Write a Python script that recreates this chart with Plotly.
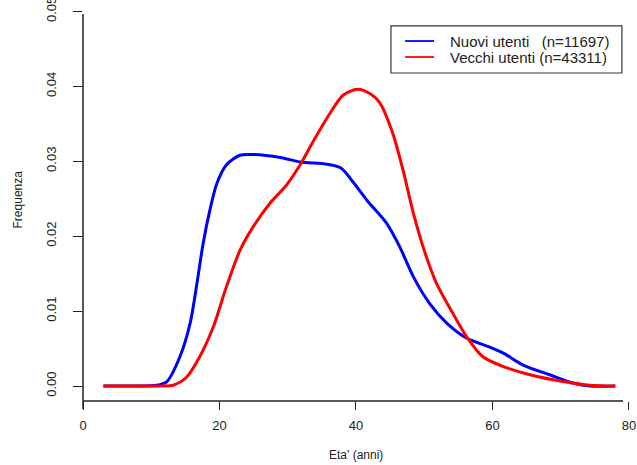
import plotly.graph_objects as go

# Data (age in years, density)
eta_nuovi = [3, 8, 10.8, 12.3, 14.2, 15.7, 16.7, 17.6, 18.6, 19.6, 21.0, 23.0, 24.9, 28.9, 31.8,
             35.7, 37.8, 39.6, 41.6, 44.5, 46.4, 48.4, 50.8, 53.3, 56.2, 59.6, 61.6, 64.5,
             68.4, 71.8, 74.3, 78]
freq_nuovi = [0.0, 0.0, 0.0001, 0.0006, 0.0039, 0.0084, 0.0137, 0.019, 0.0235, 0.027, 0.0295,
              0.0308, 0.0309, 0.0305, 0.0299, 0.0296, 0.0291, 0.0272, 0.0248, 0.0217, 0.0186,
              0.0146, 0.0110, 0.0084, 0.0064, 0.0052, 0.0044, 0.0028, 0.0015, 0.0004, 0.0, 0.0]

eta_vecchi = [3, 8, 11.7, 13.2, 15.2, 17.1, 19.1, 21.0, 23.0, 24.9, 27.4, 29.8, 31.8, 33.7,
              36.2, 38.1, 40.2, 42.1, 43.5, 45.4, 46.9, 48.4, 50.0, 51.8, 54.2, 56.2, 58.6,
              61.6, 65.5, 70.3, 74.3, 78]
freq_vecchi = [0.0, 0.0, 0.0, 0.0001, 0.0012, 0.0039, 0.0079, 0.0132, 0.0181, 0.0212, 0.0244,
               0.0268, 0.0295, 0.0326, 0.0364, 0.0388, 0.0396, 0.039, 0.0378, 0.0337, 0.0288,
               0.0231, 0.0181, 0.0137, 0.0097, 0.0066, 0.0039, 0.0026, 0.0015, 0.0006, 0.0001, 0.0]

nome_nuovi = "Nuovi utenti\u00a0\u00a0\u00a0(n=11697)"
nome_vecchi = "Vecchi utenti (n=43311)"

x_ticks = [0, 20, 40, 60, 80]
y_ticks = [0.0, 0.01, 0.02, 0.03, 0.04, 0.05]
y_ticktext = ["0.00", "0.01", "0.02", "0.03", "0.04", "0.05"]

FONT = "Liberation Sans, Arial, sans-serif"
TXT = "#222222"
BLUE = "#0000FF"
RED = "#FF0000"

fig = go.Figure()
fig.add_trace(go.Scatter(x=eta_nuovi, y=freq_nuovi, mode="lines", name=nome_nuovi,
                         showlegend=False,
                         line=dict(color=BLUE, width=3, shape="spline", smoothing=0.8)))
fig.add_trace(go.Scatter(x=eta_vecchi, y=freq_vecchi, mode="lines", name=nome_vecchi,
                         showlegend=False,
                         line=dict(color=RED, width=3, shape="spline", smoothing=0.8)))

# manual legend (box, line samples, labels) in paper coordinates
lg_x0, lg_x1, lg_y0, lg_y1 = 0.564, 0.987, 0.841, 0.962
ln_x0, ln_x1, txt_x = 0.590, 0.643, 0.668
row_y = [0.923, 0.882]
legend_shapes = [
    dict(type="rect", xref="paper", yref="paper", x0=lg_x0, x1=lg_x1, y0=lg_y0, y1=lg_y1,
         line=dict(color="#333333", width=1.2), fillcolor="white", layer="above"),
]
legend_ann = []
for col, name, yy in [(BLUE, nome_nuovi, row_y[0]), (RED, nome_vecchi, row_y[1])]:
    legend_shapes.append(dict(type="line", xref="paper", yref="paper", x0=ln_x0, x1=ln_x1,
                              y0=yy, y1=yy, line=dict(color=col, width=1.8), layer="above"))
    legend_ann.append(dict(text=name, xref="paper", yref="paper", x=txt_x, y=yy,
                           xanchor="left", yanchor="middle", showarrow=False,
                           font=dict(size=15, color=TXT)))

fig.update_layout(
    width=637, height=465,
    margin=dict(l=83, r=8, t=11, b=64, autoexpand=False),
    paper_bgcolor="white", plot_bgcolor="white",
    font=dict(family=FONT, size=13, color=TXT),
    showlegend=False,
    xaxis=dict(range=[0, 80.01], tickvals=x_ticks, ticks="outside", ticklen=8,
               tickcolor="#222", showline=False, showgrid=False, zeroline=False,
               automargin=False, ticklabeloverflow="allow",
               ticklabelstandoff=4, tickfont=dict(size=13, color=TXT)),
    yaxis=dict(range=[-0.002, 0.05005], tickvals=y_ticks, ticktext=y_ticktext,
               tickangle=-90, ticks="outside", ticklen=9, tickcolor="#222",
               showline=False, showgrid=False, zeroline=False, automargin=False,
               ticklabeloverflow="allow",
               ticklabelstandoff=12, tickfont=dict(size=13, color=TXT)),
    shapes=[
        dict(type="line", xref="paper", yref="paper", x0=0, x1=0, y0=-0.0205, y1=0.992,
             line=dict(color="#222", width=1.5)),
        dict(type="line", xref="paper", yref="paper", x0=0, x1=0.989, y0=0, y1=0,
             line=dict(color="#222", width=1.5)),
    ] + legend_shapes,
    annotations=[
        dict(text="Frequenza", xref="paper", yref="paper", x=-0.12, y=0.518,
             xanchor="center", yanchor="middle", textangle=-90, showarrow=False,
             font=dict(size=12, color=TXT)),
        dict(text="Eta' (anni)", xref="paper", yref="paper", x=0.5, y=-0.138,
             xanchor="center", yanchor="middle", showarrow=False,
             font=dict(size=12, color=TXT)),
    ] + legend_ann,
)

fig.write_html("out.html", config={"displayModeBar": False},
               post_script="document.body.style.margin='0';")
